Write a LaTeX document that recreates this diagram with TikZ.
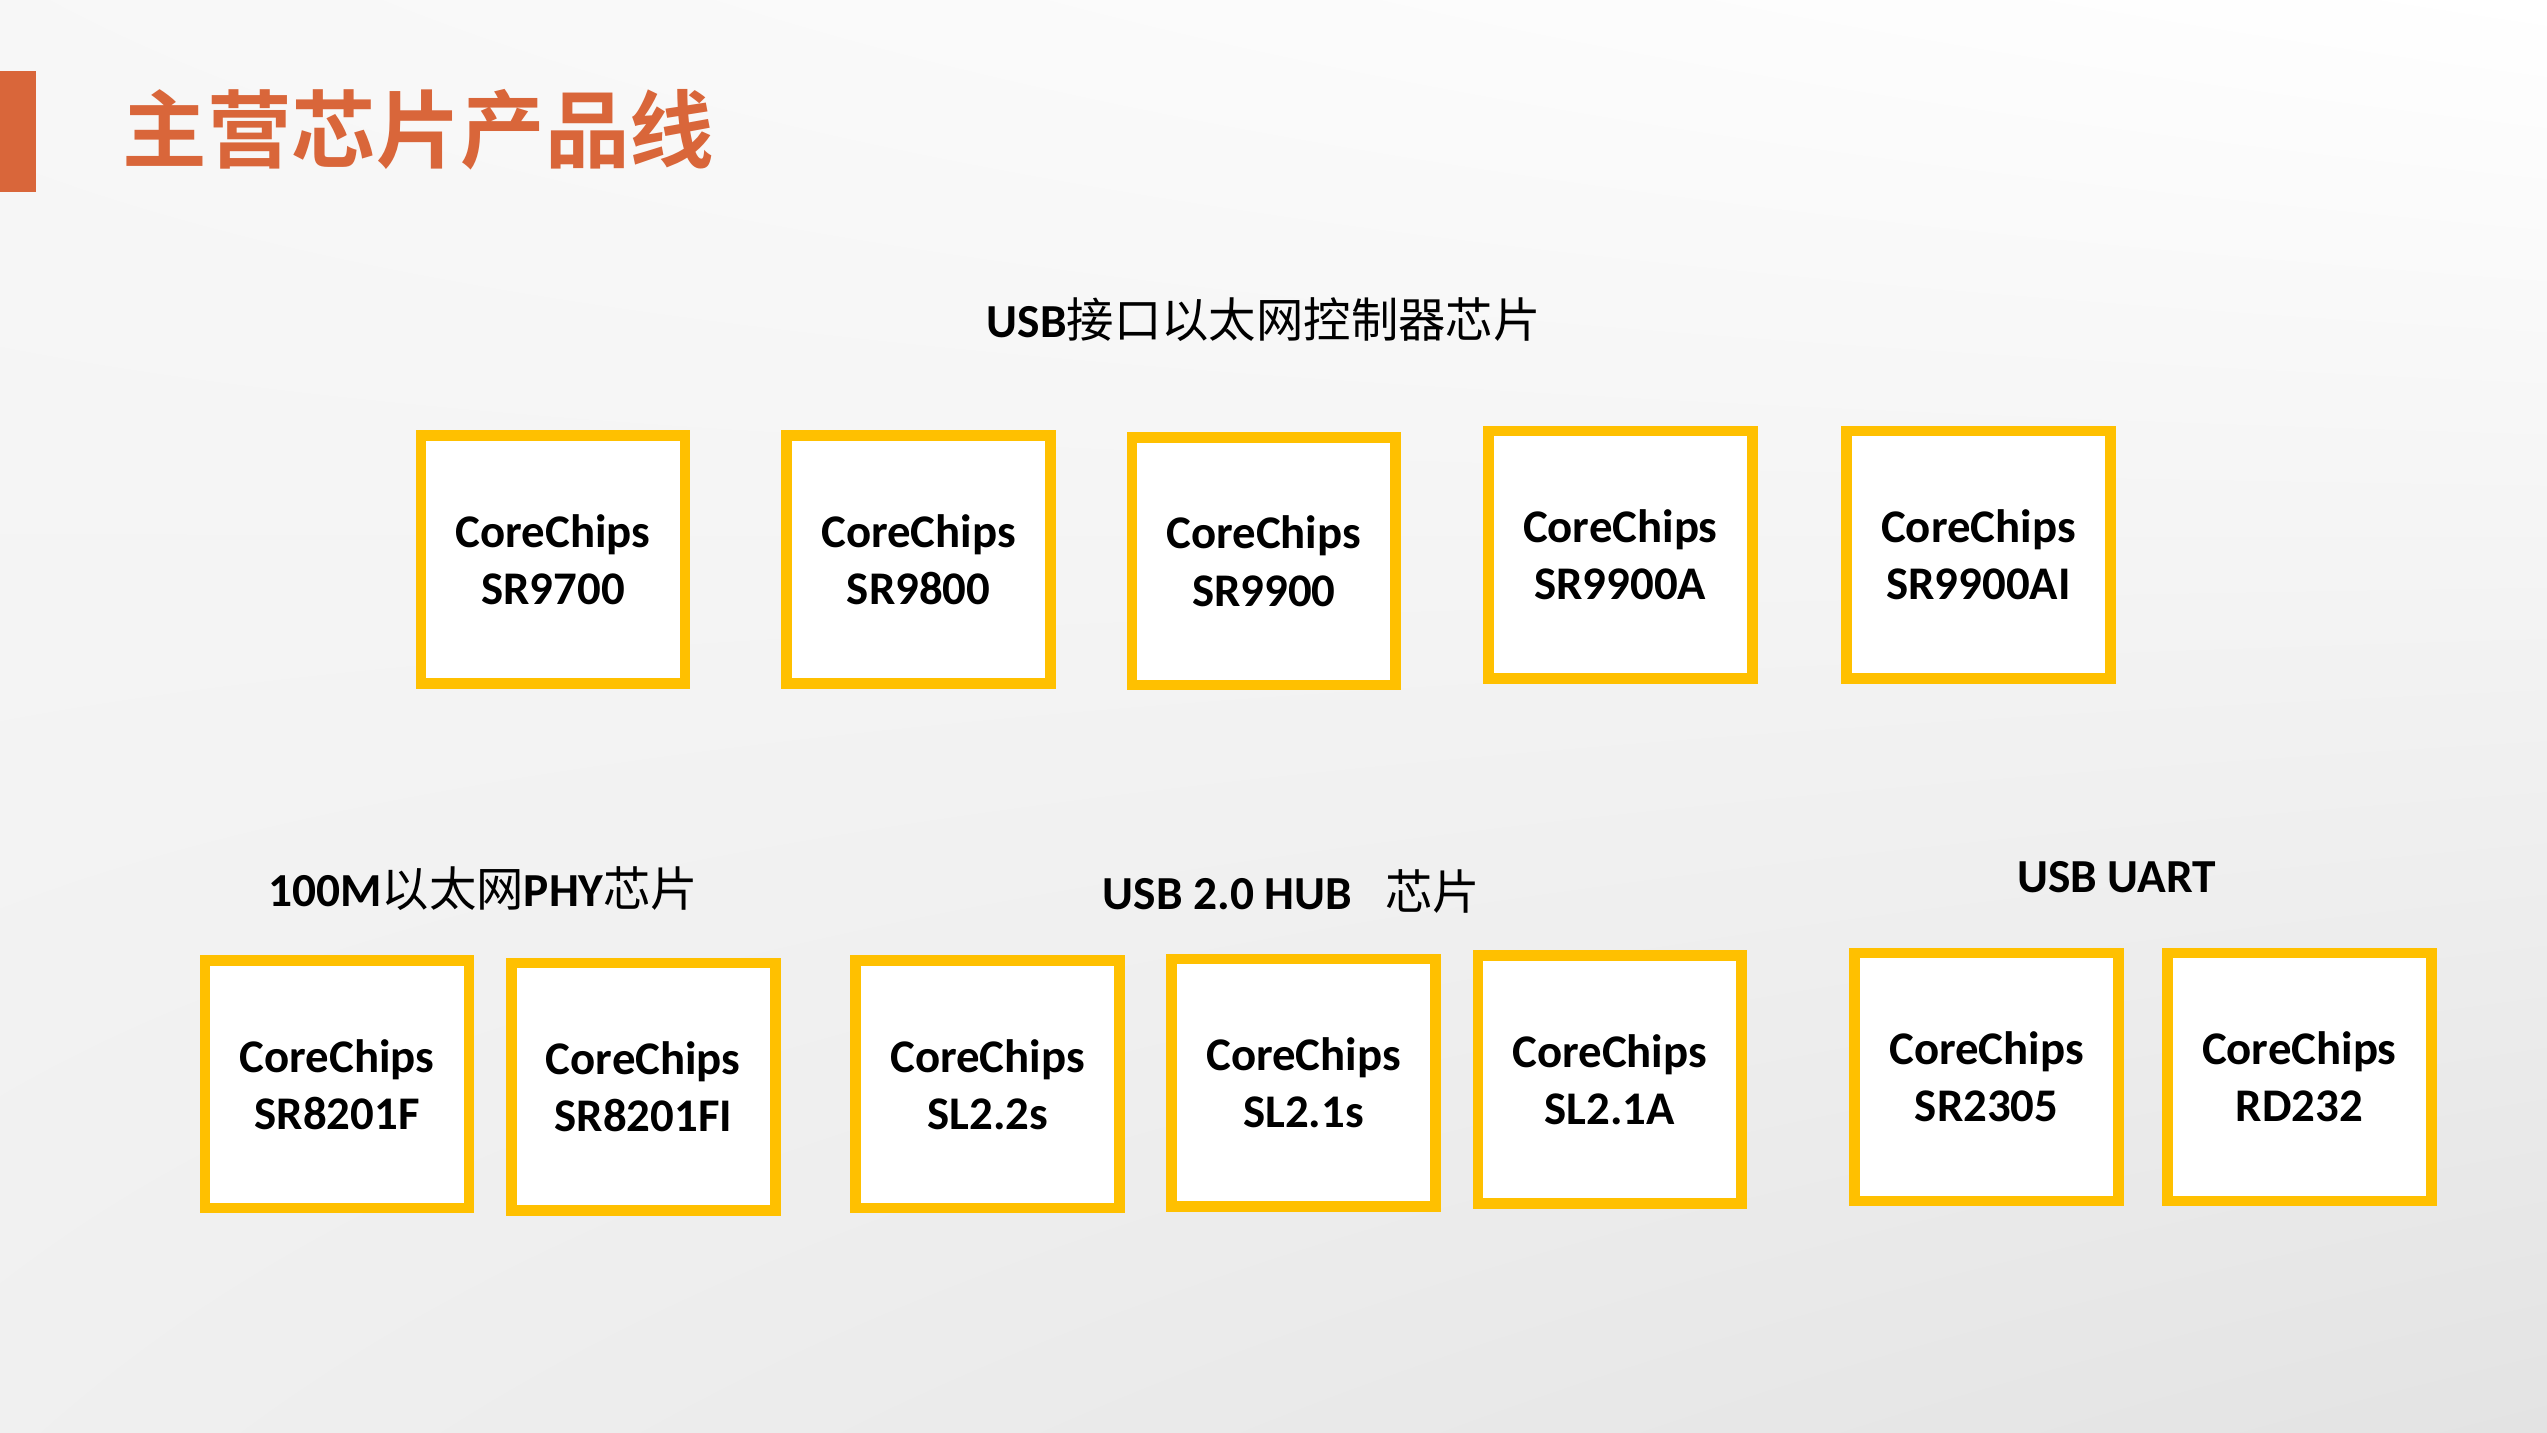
\documentclass[tikz,border=0pt]{standalone}
\usepackage{fontspec}
\setmainfont{Carlito}
\newfontfamily\cjk{Noto Sans CJK SC}
\newfontfamily\cjkbf{Noto Sans CJK SC Bold}
\newcommand\zh[1]{{\cjk\mdseries #1}}
\usetikzlibrary{positioning,shadings}
\definecolor{chipyellow}{HTML}{FFC000}
\definecolor{titleorange}{RGB}{217,102,58}
\tikzset{
  chip/.style = {draw=chipyellow, fill=white, line width=0.065cm, rectangle, minimum width=1.625cm, minimum height=1.525cm, align=center, font=\fontsize{8.2}{10}\selectfont\bfseries},
  head/.style = {inner sep=0pt, font=\fontsize{8.3}{10}\selectfont\bfseries},
  pagetitle/.style = {inner sep=0pt, anchor=west, text=titleorange, font=\fontsize{14.8}{16}\selectfont\cjkbf}
}
\begin{document}
\begin{tikzpicture}
            % background
            \shade[upper left=black!3, upper right=white, lower left=black!6, lower right=black!11] (0,0) rectangle (15.68,-8.82);
            \useasboundingbox (0,0) rectangle (15.68,-8.82);
            \fill[titleorange] (0,-0.44) rectangle (0.22,-1.18);
            \node[pagetitle] (title) at (0.75,-0.80) {主营芯片产品线};
            % USB ethernet
            \node[head] (usbeth) at (7.78,-1.97) {USB\zh{接口以太网控制器芯片}};
            \node[chip] (sr9700) at (3.405,-3.445) {CoreChips\\SR9700};
            \node[chip] (sr9800) at (5.655,-3.445) {CoreChips\\SR9800};
            \node[chip] (sr9900) at (7.78,-3.455) {CoreChips\\SR9900};
            \node[chip] (sr9900a) at (9.975,-3.415) {CoreChips\\SR9900A};
            \node[chip] (sr9900ai) at (12.18,-3.415) {CoreChips\\SR9900AI};
            % PHY, HUB, UART
            \node[head] (phy) at (2.975,-5.47) {100M\zh{以太网}PHY\zh{芯片}};
            \node[head] (hub) at (7.95,-5.49) {USB 2.0 HUB\hspace{0.7em}\zh{芯片}};
            \node[head] (uart) at (13.03,-5.40) {USB UART};
            \node[chip] (sr8201f) at (2.075,-6.675) {CoreChips\\SR8201F};
            \node[chip] (sr8201fi) at (3.96,-6.69) {CoreChips\\SR8201FI};
            \node[chip] (sl22s) at (6.08,-6.675) {CoreChips\\SL2.2s};
            \node[chip] (sl21s) at (8.025,-6.665) {CoreChips\\SL2.1s};
            \node[chip] (sl21a) at (9.91,-6.645) {CoreChips\\SL2.1A};
            \node[chip] (sr2305) at (12.23,-6.63) {CoreChips\\SR2305};
            \node[chip] (rd232) at (14.155,-6.63) {CoreChips\\RD232};
        \end{tikzpicture}
\end{document}
